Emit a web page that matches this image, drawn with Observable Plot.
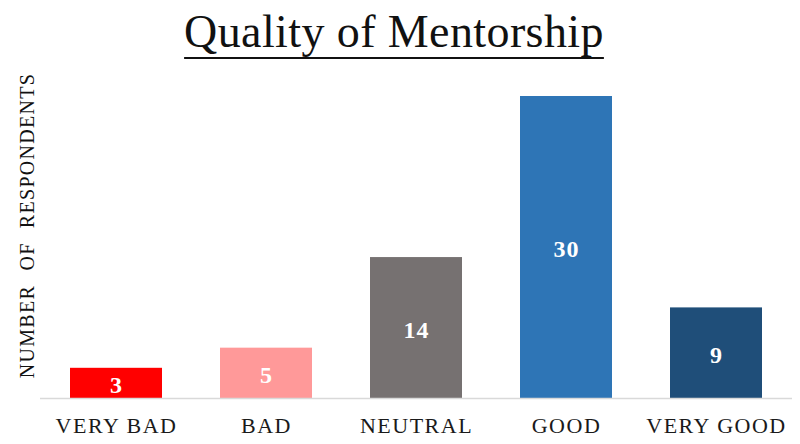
<!DOCTYPE html>
<html>
<head>
<meta charset="utf-8">
<script src="https://cdn.jsdelivr.net/npm/d3@7"></script>
<script src="https://cdn.jsdelivr.net/npm/@observablehq/plot@0.6"></script>
<style>
  html, body { margin: 0; padding: 0; background: #ffffff; }
  #wrap { width: 800px; height: 444px; overflow: hidden; background: #fff; }
  #title {
    height: 70px; box-sizing: border-box; padding-top: 9px;
    font-family: "Liberation Serif", serif; font-size: 46px; line-height: 1;
    text-align: center; color: #111; padding-right: 12px;
    text-decoration: underline; text-decoration-thickness: 2px; text-underline-offset: 10px;
    letter-spacing: 0.4px;
  }
  g[aria-label="x-axis tick label"] text { letter-spacing: 1.5px; }
  text.ylabel { letter-spacing: 1.3px; word-spacing: 8px; }
  text.vlabel { letter-spacing: 1px; }
</style>
</head>
<body>
<div id="wrap">
  <div id="title">Quality of Mentorship</div>
  <div id="chart"></div>
</div>
<script>
const categories = ["VERY BAD", "BAD", "NEUTRAL", "GOOD", "VERY GOOD"];
const values = [3, 5, 14, 30, 9];
const colors = ["#FF0000", "#FF9999", "#767171", "#2E75B6", "#1F4E79"];
const yLabel = "NUMBER OF RESPONDENTS";

const data = categories.map((c, i) => ({cat: c, value: values[i]}));

const chart = Plot.plot({
  width: 800,
  height: 374,
  marginLeft: 40,
  marginRight: 8,
  marginTop: 26,
  marginBottom: 46,
  style: {fontFamily: "Liberation Serif, serif", background: "white", color: "#1a1a1a"},
  x: {domain: categories, paddingInner: 0.39, paddingOuter: 0.195, label: null},
  y: {domain: [0, 30], axis: null},
  color: {domain: categories, range: colors},
  marks: [
    Plot.barY(data, {x: "cat", y: "value", fill: "cat"}),
    Plot.ruleY([0], {stroke: "#d9d9d9", strokeWidth: 1.5}),
    Plot.axisX({tickSize: 0, tickPadding: 19, fontSize: 22, label: null}),
    Plot.text(data, {x: "cat", y: d => d.value / 2, text: "value", fill: "white",
      fontWeight: "bold", fontSize: 24, dy: 2}),
    Plot.text([yLabel], {frameAnchor: "left", textAnchor: "middle", lineAnchor: "middle",
      rotate: -90, dx: -13, dy: -22, fontSize: 20, fill: "#111"})
  ]
});
d3.select(chart).selectAll("text").filter(function() { return this.textContent === yLabel; })
  .classed("ylabel", true);
d3.select(chart).selectAll("text").filter(function() { return values.map(String).includes(this.textContent); })
  .classed("vlabel", true);
document.getElementById("chart").appendChild(chart);
</script>
</body>
</html>
